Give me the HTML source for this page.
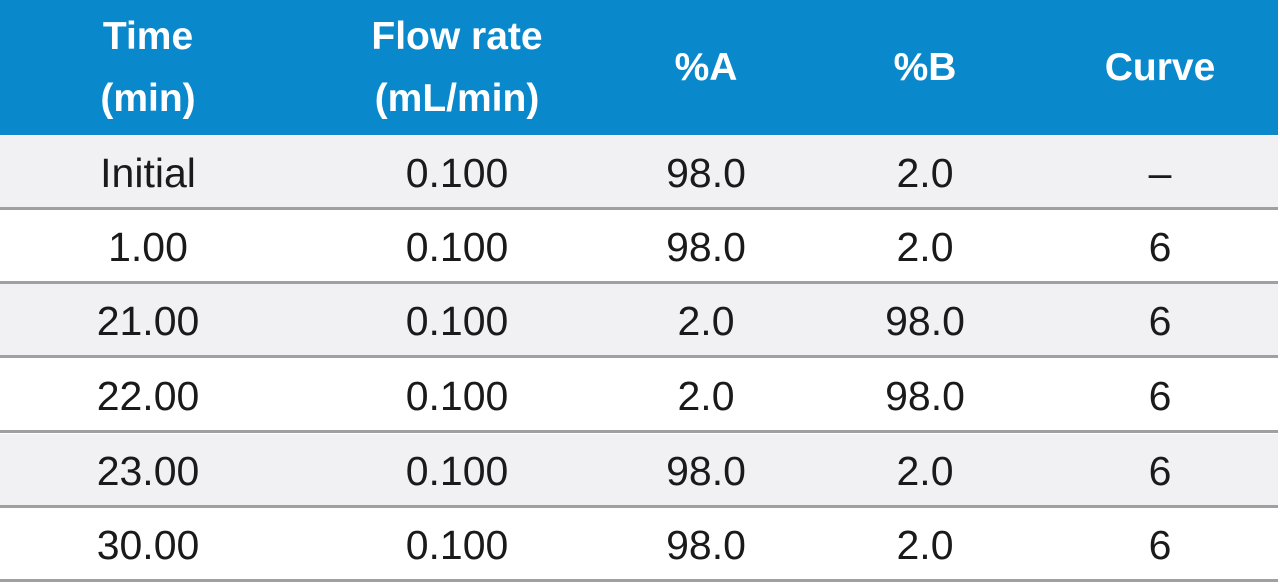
<!DOCTYPE html>
<html><head><meta charset="utf-8"><style>
body{margin:0;width:1280px;height:586px;background:#fff;font-family:"Liberation Sans",sans-serif;position:relative;overflow:hidden}
.hdr{position:absolute;left:0;top:0;width:1278px;height:135px;background:#0a88cc}
.hc{position:absolute;top:0;height:135px;display:flex;align-items:center;justify-content:center;text-align:center;color:#fff;font-weight:bold;font-size:39px;line-height:62px;transform:translateX(-50%);white-space:nowrap}
.row{position:absolute;left:0;width:1278px;height:74px;border-bottom:3px solid #a0a0a2;box-sizing:border-box}
.c{position:absolute;top:0;height:72px;line-height:74px;font-size:41px;color:#1a1a1a;transform:translateX(-50%);white-space:nowrap}
</style></head><body>
<div class="hdr">
<div class="hc" style="left:148px">Time<br>(min)</div>
<div class="hc" style="left:457px">Flow rate<br>(mL/min)</div>
<div class="hc" style="left:706px">%A</div>
<div class="hc" style="left:925px">%B</div>
<div class="hc" style="left:1160px">Curve</div>
</div>
<div id="rows"></div>
<script>
const times=["Initial","1.00","21.00","22.00","23.00","30.00"];
const flows=["0.100","0.100","0.100","0.100","0.100","0.100"];
const pa=["98.0","98.0","2.0","2.0","98.0","98.0"];
const pb=["2.0","2.0","98.0","98.0","2.0","2.0"];
const curves=["–","6","6","6","6","6"];
const xs=[148,457,706,925,1160];
const tops=[136,210,284,359,434,508];
const names=['time','flow-rate','percent-a','percent-b','curve'];
const c=document.getElementById('rows');
times.forEach((t,i)=>{
 const r=document.createElement('div');r.className='row';
 
 
 r.style.top=tops[i]+'px';r.style.background=i%2==0?'#f1f1f3':'#fff';
 [t,flows[i],pa[i],pb[i],curves[i]].forEach((v,j)=>{
  const d=document.createElement('div');d.className='c';
  
  
  d.style.left=xs[j]+'px';d.textContent=v;r.appendChild(d);
 });
 c.appendChild(r);
});
</script>
</body></html>
